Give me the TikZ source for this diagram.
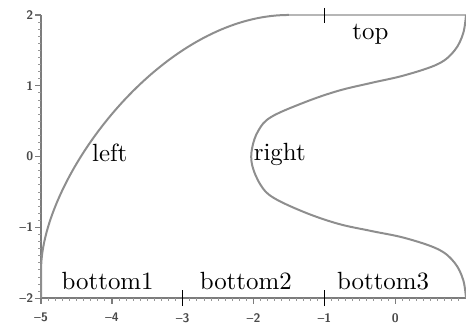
\documentclass[tikz,border=0pt]{standalone}
\usepackage{tikz}
\usetikzlibrary{calc}
\definecolor{curvegray}{HTML}{8E8E8E}
\definecolor{axisgray}{HTML}{7C7C7C}
\definecolor{topgray}{HTML}{B6B6B6}
\definecolor{ticktext}{HTML}{4A4A4A}
\newcommand{\ticknum}[1]{\ifnum#1<0 \textendash\number\numexpr-#1\relax\else#1\fi}

\begin{document}
\begin{tikzpicture}[
 boundary/.style={draw=curvegray,line width=0.8pt},
 topline/.style={draw=topgray,line width=1pt},
 axisline/.style={draw=axisgray,line width=0.9pt},
 minortick/.style={draw=axisgray!80,line width=0.35pt},
 majortick/.style={draw=axisgray,line width=0.5pt},
 splitmark/.style={draw=black,line width=0.5pt},
 ticklabel/.style={font=\sffamily\bfseries\tiny,text=ticktext,inner sep=1pt},
 partlabel/.style={anchor=base,inner sep=0pt}
]
\useasboundingbox (-5.58,-2.406) rectangle (1.0,2.211);
% axes with ticks
\draw[axisline] (-5,-2)--(1,-2);
\draw[axisline] (-5,-2)--(-5,2);
\foreach \i in {1,...,59} \draw[minortick] (-5+\i/10,-2)--++(0,-0.04);
\foreach \i in {1,...,39} \draw[minortick] (-5,-2+\i/10)--++(-0.04,0);
\foreach \v in {-5,...,0} {
  \draw[majortick] (\v,-2)--++(0,-0.08);
  \node[ticklabel,anchor=north] (xlab\v) at (\v,-2.17) {\ticknum{\v}};
}
\foreach \v in {-2,...,2} {
  \draw[majortick] (-5,\v)--++(-0.08,0);
  \node[ticklabel,anchor=east] (ylab\v) at (-5.07,\v) {\ticknum{\v}};
}
% boundary pieces
\draw[topline] (-1.55,2)--(1,2);
\draw[boundary] (-5,-2)--(-5,-1.6) .. controls (-5,-0.3) and (-3.3,2) .. (-1.5,2);
\draw[boundary] plot[smooth,tension=0.6] coordinates {(1,2) (0.96,1.74) (0.84,1.5)
  (0.61,1.31) (0.14,1.15) (-0.34,1.04) (-0.8,0.93) (-1.27,0.77) (-1.75,0.56)
  (-1.93,0.37) (-2.02,0.12) (-2.02,-0.12) (-1.9,-0.4) (-1.72,-0.58) (-1.27,-0.79)
  (-0.8,-0.95) (-0.34,-1.05) (0.14,-1.15) (0.61,-1.31) (0.84,-1.5) (0.96,-1.74) (1,-2)};
% split marks
\draw[splitmark] (-3,-2.11)--(-3,-1.88);
\draw[splitmark] (-1,-2.11)--(-1,-1.88);
\draw[splitmark] (-1,2.1)--(-1,1.88);
% part labels
\node[partlabel] (top) at (-0.35,1.66) {top};
\node[partlabel] (left) at (-4.03,-0.07) {left};
\node[partlabel] (right) at (-1.63,-0.06) {right};
\node[partlabel] (bottom1) at (-4.06,-1.88) {bottom1};
\node[partlabel] (bottom2) at (-2.11,-1.88) {bottom2};
\node[partlabel] (bottom3) at (-0.17,-1.88) {bottom3};
\end{tikzpicture}
\end{document}
